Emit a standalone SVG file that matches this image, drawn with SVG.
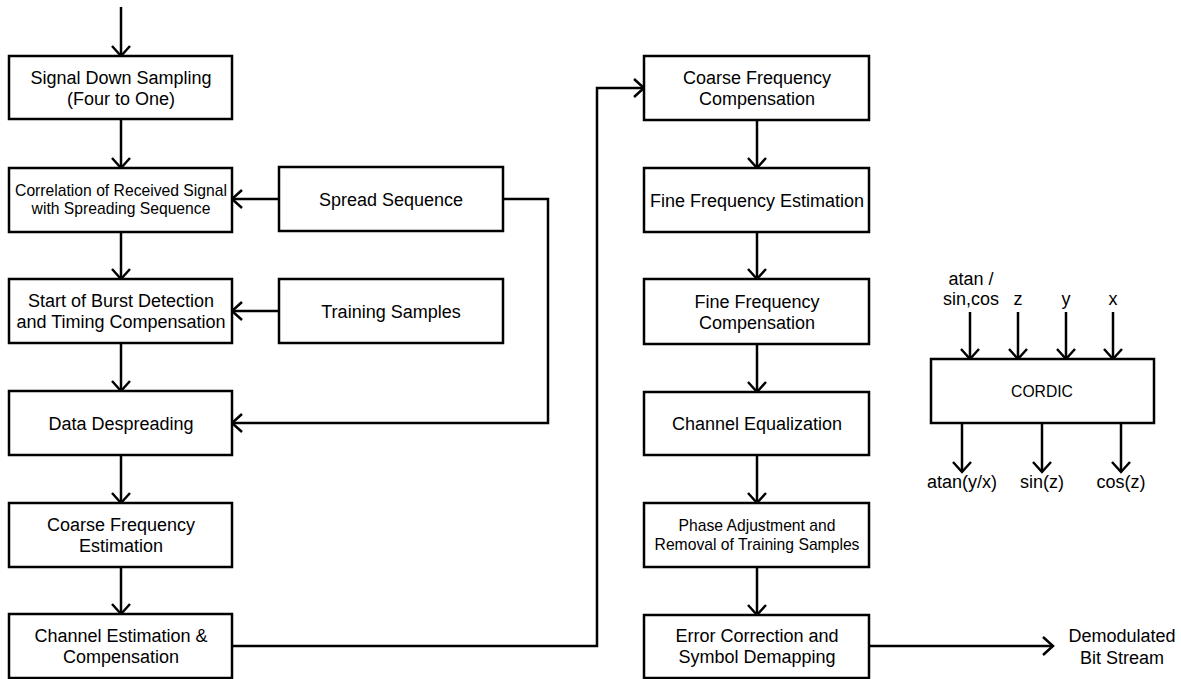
<svg xmlns="http://www.w3.org/2000/svg" width="1181" height="679" viewBox="0 0 1181 679">
  <style>
    .box { fill: #ffffff; stroke: #000000; stroke-width: 2.5; }
    .wire { fill: none; stroke: #000000; stroke-width: 2.5; }
    .arrow { marker-end: url(#head); }
    text { font-family: "Liberation Sans", Arial, sans-serif; font-size: 18px; fill: #000000; text-anchor: middle; }
    .small { font-size: 15.7px; }
  </style>
  <defs>
    <marker id="head" viewBox="-12 -11 14 22" refX="0" refY="0" markerWidth="14" markerHeight="22" markerUnits="userSpaceOnUse" orient="auto">
      <path d="M-10,-9 L0,0 L-10,9" fill="none" stroke="#000000" stroke-width="2.5"/>
    </marker>
  </defs>
  <rect width="1181" height="679" fill="#ffffff"/>

  <!-- connectors -->
  <g id="connectors">
    <path class="wire arrow" d="M121,7 V56"/>
    <path class="wire arrow" d="M121,119 V168"/>
    <path class="wire arrow" d="M121,232 V279"/>
    <path class="wire arrow" d="M121,343 V391"/>
    <path class="wire arrow" d="M121,455 V503"/>
    <path class="wire arrow" d="M121,567 V614"/>
    <path class="wire arrow" d="M279,199 H232"/>
    <path class="wire arrow" d="M279,311 H232"/>
    <path class="wire arrow" d="M503,199 H548 V423 H232"/>
    <path class="wire arrow" d="M232,646 H597 V88 H644"/>
    <path class="wire arrow" d="M757,120 V168"/>
    <path class="wire arrow" d="M757,232 V279"/>
    <path class="wire arrow" d="M757,344 V392"/>
    <path class="wire arrow" d="M757,455 V503"/>
    <path class="wire arrow" d="M757,567 V615"/>
    <path class="wire arrow" d="M869,646 H1053"/>
    <path class="wire arrow" d="M970,312 V359"/>
    <path class="wire arrow" d="M1018,312 V359"/>
    <path class="wire arrow" d="M1066,312 V359"/>
    <path class="wire arrow" d="M1113,312 V359"/>
    <path class="wire arrow" d="M962,423 V472"/>
    <path class="wire arrow" d="M1042,423 V472"/>
    <path class="wire arrow" d="M1121,423 V472"/>
  </g>

  <!-- receiver chain, left column -->
  <g id="down-sampling">
    <rect class="box" x="9" y="56" width="223" height="63"/>
    <text x="121" y="84">Signal Down Sampling</text>
    <text x="121" y="105">(Four to One)</text>
  </g>
  <g id="correlation">
    <rect class="box" x="9" y="168" width="223" height="64"/>
    <text class="small" x="121" y="196">Correlation of Received Signal</text>
    <text class="small" x="121" y="214">with Spreading Sequence</text>
  </g>
  <g id="burst-detection">
    <rect class="box" x="9" y="279" width="223" height="64"/>
    <text x="121" y="307">Start of Burst Detection</text>
    <text x="121" y="328">and Timing Compensation</text>
  </g>
  <g id="despreading">
    <rect class="box" x="9" y="391" width="223" height="64"/>
    <text x="121" y="429.5">Data Despreading</text>
  </g>
  <g id="coarse-estimation">
    <rect class="box" x="9" y="503" width="223" height="64"/>
    <text x="121" y="531">Coarse Frequency</text>
    <text x="121" y="552">Estimation</text>
  </g>
  <g id="channel-estimation">
    <rect class="box" x="9" y="614" width="223" height="64"/>
    <text x="121" y="642">Channel Estimation &amp;</text>
    <text x="121" y="663">Compensation</text>
  </g>

  <!-- reference inputs -->
  <g id="spread-sequence">
    <rect class="box" x="279" y="167" width="224" height="64"/>
    <text x="391" y="205.5">Spread Sequence</text>
  </g>
  <g id="training-samples">
    <rect class="box" x="279" y="279" width="224" height="64"/>
    <text x="391" y="317.5">Training Samples</text>
  </g>

  <!-- receiver chain, right column -->
  <g id="coarse-compensation">
    <rect class="box" x="644" y="56" width="225" height="64"/>
    <text x="757" y="84">Coarse Frequency</text>
    <text x="757" y="105">Compensation</text>
  </g>
  <g id="fine-estimation">
    <rect class="box" x="644" y="168" width="225" height="64"/>
    <text x="757" y="206.5">Fine Frequency Estimation</text>
  </g>
  <g id="fine-compensation">
    <rect class="box" x="644" y="279" width="225" height="65"/>
    <text x="757" y="308">Fine Frequency</text>
    <text x="757" y="329">Compensation</text>
  </g>
  <g id="equalization">
    <rect class="box" x="644" y="392" width="225" height="63"/>
    <text x="757" y="430">Channel Equalization</text>
  </g>
  <g id="phase-adjustment">
    <rect class="box" x="644" y="503" width="225" height="64"/>
    <text class="small" x="757" y="530.5">Phase Adjustment and</text>
    <text class="small" x="757" y="549.5">Removal of Training Samples</text>
  </g>
  <g id="error-correction">
    <rect class="box" x="644" y="615" width="225" height="63"/>
    <text x="757" y="642">Error Correction and</text>
    <text x="757" y="663">Symbol Demapping</text>
  </g>
  <g id="output">
    <text x="1122" y="642">Demodulated</text>
    <text x="1122" y="664">Bit Stream</text>
  </g>

  <!-- CORDIC block -->
  <g id="cordic">
    <rect class="box" x="931" y="359" width="223" height="64"/>
    <text class="small" x="1042" y="397">CORDIC</text>
    <text x="971" y="285">atan /</text>
    <text x="971" y="305">sin,cos</text>
    <text x="1018" y="305">z</text>
    <text x="1066" y="305">y</text>
    <text x="1113" y="305">x</text>
    <text x="962" y="488">atan(y/x)</text>
    <text x="1042" y="488">sin(z)</text>
    <text x="1121" y="488">cos(z)</text>
  </g>
</svg>
